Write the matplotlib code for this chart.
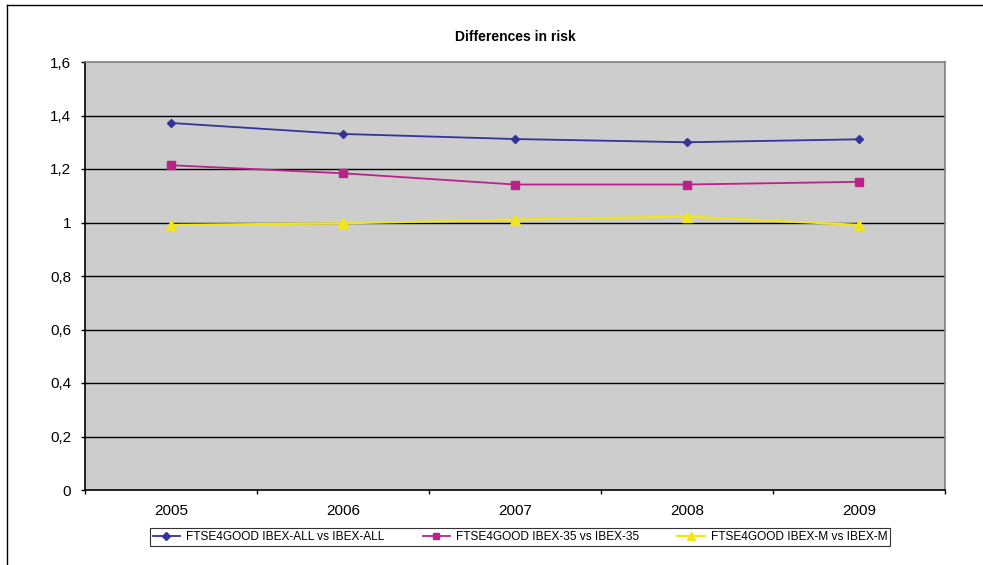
import matplotlib.pyplot as plt
from matplotlib.lines import Line2D
import numpy as np

plt.rcParams['font.family'] = ['Liberation Sans', 'DejaVu Sans']

years = ['2005', '2006', '2007', '2008', '2009']
ibex_all = [1.372, 1.331, 1.312, 1.300, 1.311]
ibex_35 = [1.214, 1.184, 1.142, 1.142, 1.152]
ibex_m = [0.991, 0.997, 1.011, 1.022, 0.991]

series_names = ['FTSE4GOOD IBEX-ALL vs IBEX-ALL',
                'FTSE4GOOD IBEX-35 vs IBEX-35',
                'FTSE4GOOD IBEX-M vs IBEX-M']

y_ticks = [0, 0.2, 0.4, 0.6, 0.8, 1.0, 1.2, 1.4, 1.6]
y_tick_labels = ['0', '0,2', '0,4', '0,6', '0,8', '1', '1,2', '1,4', '1,6']

fig = plt.figure(figsize=(9.83, 5.65), dpi=100)
ax = fig.add_axes([85/983, 1 - 490/565, 860/983, 428/565])
ax.set_facecolor('#cdcdcd')

x = np.arange(len(years))
ax.plot(x, ibex_all, color='#333399', marker='D', markersize=4.5, lw=1.3)
ax.plot(x, ibex_35, color='#bb2288', marker='s', markersize=6, lw=1.3)
ax.plot(x, ibex_m, color='#f2e51c', marker='^', markersize=7, lw=1.6)

ax.set_xlim(-0.5, len(years) - 0.5)
ax.set_ylim(0, 1.6)
ax.set_yticks(y_ticks)
ax.set_yticklabels(y_tick_labels, fontsize=11)
ax.set_xticks(x)
ax.set_xticklabels(years, fontsize=11)
ax.set_xticks(np.arange(-0.5, len(years)), minor=True)
ax.tick_params(axis='x', which='major', length=0, pad=10)
ax.tick_params(axis='x', which='minor', length=3, width=1, direction='out')
ax.tick_params(axis='y', length=3, width=1, direction='out', pad=7)

for yv in y_ticks[1:-1]:
    ax.axhline(yv, color='black', lw=1, zorder=1)

ax.spines['left'].set_color('black')
ax.spines['bottom'].set_color('black')
ax.spines['top'].set_color('#808080')
ax.spines['right'].set_color('#808080')
for s in ax.spines.values():
    s.set_linewidth(1.2)

fig.text(515/983, 1 - 37/565, 'Differences in risk', ha='center', va='center',
         fontsize=10, fontweight='bold')

handles = [
    Line2D([], [], color='#333399', marker='D', markersize=4, lw=1.3),
    Line2D([], [], color='#bb2288', marker='s', markersize=5, lw=1.3),
    Line2D([], [], color='#f2e51c', marker='^', markersize=6, lw=1.6),
]
leg = fig.legend(handles, series_names, loc='center', ncol=3,
                 bbox_to_anchor=(520/983, 1 - 537/565), fontsize=8.6,
                 frameon=True, fancybox=False, edgecolor='black',
                 handlelength=2.3, handletextpad=0.5, columnspacing=3.2,
                 borderpad=0.25, borderaxespad=0)
leg.get_frame().set_linewidth(0.8)

# outer chart border (left and top visible)
fig.add_artist(Line2D([7/983, 7/983], [0, 1 - 5/565], color='black', lw=1,
                      transform=fig.transFigure))
fig.add_artist(Line2D([7/983, 1], [1 - 5/565, 1 - 5/565], color='black', lw=1,
                      transform=fig.transFigure))

fig.savefig('out.png', dpi=100)
